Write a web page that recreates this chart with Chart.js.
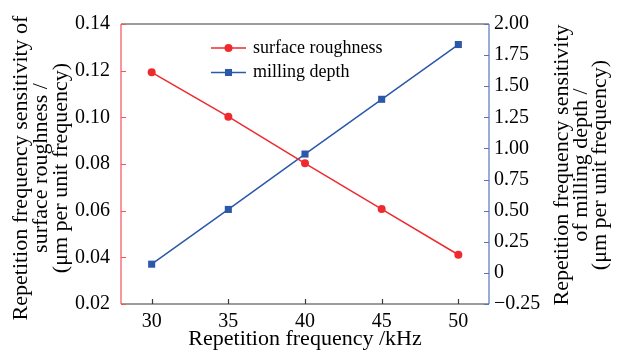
<!DOCTYPE html>
<html>
<head>
<meta charset="utf-8">
<script src="https://cdn.jsdelivr.net/npm/chart.js@4/dist/chart.umd.min.js"></script>
<style>
html,body{margin:0;padding:0;background:#fff;}
#wrap{width:619px;height:353px;position:relative;}
</style>
</head>
<body>
<div id="wrap"><canvas id="c" width="619" height="353"></canvas></div>
<script>
// ---- data ----
const frequencies = [30, 35, 40, 45, 50];
const surfaceRoughness = [0.1193, 0.1003, 0.0803, 0.0607, 0.0411];
const millingDepth = [0.07, 0.51, 0.955, 1.395, 1.835];
const xTicks = [30, 35, 40, 45, 50];
const leftTicks = [0.02, 0.04, 0.06, 0.08, 0.10, 0.12, 0.14];
const rightTicks = [-0.25, 0, 0.25, 0.5, 0.75, 1.0, 1.25, 1.5, 1.75, 2.0];
const rightTickLabels = ['\u22120.25', '0', '0.25', '0.50', '0.75', '1.00', '1.25', '1.50', '1.75', '2.00'];
const seriesNames = ['surface roughness', 'milling depth'];
const xTitle = 'Repetition frequency /kHz';
const leftTitle = ['Repetition frequency sensitivity of', 'surface roughness /', '(\u03bcm per unit frequency)'];
const rightTitle = ['Repetition frequency sensitivity', 'of milling depth /', '(\u03bcm per unit frequency)'];

const RED = '#ee2a2e';
const BLUE = '#2b58a8';
const RED_AXIS = '#f2545a';
const BLUE_AXIS = '#5674c0';
const FRAME = '#3a3a3a';
const FONT = "'Liberation Serif', 'Times New Roman', serif";

Chart.defaults.font.family = FONT;
Chart.defaults.color = '#000';

const framePlugin = {
  id: 'frame',
  beforeDatasetsDraw(chart) {
    const {ctx, chartArea: a, scales} = chart;
    ctx.save();
    ctx.lineWidth = 1.2;
    ctx.strokeStyle = FRAME;
    ctx.beginPath();
    ctx.moveTo(a.left, a.top); ctx.lineTo(a.right, a.top);
    ctx.moveTo(a.left, a.bottom); ctx.lineTo(a.right, a.bottom);
    ctx.stroke();
    ctx.beginPath();
    scales.x.ticks.forEach(t => {
      const px = Math.round(scales.x.getPixelForValue(t.value)) + 0.5;
      ctx.moveTo(px, a.bottom); ctx.lineTo(px, a.bottom - 5);
    });
    ctx.stroke();
    ctx.strokeStyle = RED_AXIS;
    ctx.beginPath();
    ctx.moveTo(a.left, a.top); ctx.lineTo(a.left, a.bottom);
    scales.y.ticks.forEach(t => {
      const py = Math.round(scales.y.getPixelForValue(t.value)) + 0.5;
      ctx.moveTo(a.left, py); ctx.lineTo(a.left + 5, py);
    });
    ctx.stroke();
    ctx.strokeStyle = BLUE_AXIS;
    ctx.beginPath();
    ctx.moveTo(a.right, a.top); ctx.lineTo(a.right, a.bottom);
    scales.y1.ticks.forEach(t => {
      const py = Math.round(scales.y1.getPixelForValue(t.value)) + 0.5;
      ctx.moveTo(a.right, py); ctx.lineTo(a.right - 5, py);
    });
    ctx.stroke();
    ctx.restore();
  },
  afterDraw(chart) {
    const {ctx, chartArea: a} = chart;
    ctx.save();
    ctx.fillStyle = '#000';
    ctx.font = "22px " + FONT;
    ctx.textAlign = 'center';
    ctx.textBaseline = 'middle';
    const lx = [21, 41, 61];
    leftTitle.forEach((s, i) => {
      ctx.save(); ctx.translate(lx[i], 168); ctx.rotate(-Math.PI / 2); ctx.fillText(s, 0, 0); ctx.restore();
    });
    const rx = [562, 581, 600];
    rightTitle.forEach((s, i) => {
      ctx.save(); ctx.translate(rx[i], 165); ctx.rotate(-Math.PI / 2); ctx.fillText(s, 0, 0); ctx.restore();
    });
    ctx.font = "18px " + FONT;
    ctx.textAlign = 'left';
    chart.data.datasets.forEach((ds, i) => {
      const y = a.top + 24 + i * 24.5;
      const x0 = a.left + 90;
      ctx.strokeStyle = ds.borderColor;
      ctx.lineWidth = 1.5;
      ctx.beginPath(); ctx.moveTo(x0, y); ctx.lineTo(x0 + 35, y); ctx.stroke();
      ctx.fillStyle = ds.pointBackgroundColor;
      Chart.helpers.drawPoint(ctx, {pointStyle: ds.pointStyle, radius: ds.pointRadius, rotation: 0, borderWidth: 0}, x0 + 17.5, y);
      ctx.fillStyle = '#000';
      ctx.fillText(ds.label, x0 + 42, y);
    });
    ctx.restore();
  }
};

new Chart(document.getElementById('c'), {
  type: 'line',
  data: {
    datasets: [
      {
        label: seriesNames[0],
        data: frequencies.map((f, i) => ({x: f, y: surfaceRoughness[i]})),
        yAxisID: 'y',
        borderColor: RED,
        backgroundColor: RED,
        pointBackgroundColor: RED,
        pointBorderColor: RED,
        pointStyle: 'circle',
        pointRadius: 4,
        pointBorderWidth: 0,
        borderWidth: 1.5,
        tension: 0
      },
      {
        label: seriesNames[1],
        data: frequencies.map((f, i) => ({x: f, y: millingDepth[i]})),
        yAxisID: 'y1',
        borderColor: BLUE,
        backgroundColor: BLUE,
        pointBackgroundColor: BLUE,
        pointBorderColor: BLUE,
        pointStyle: 'rect',
        pointRadius: 5,
        pointBorderWidth: 0,
        borderWidth: 1.5,
        tension: 0
      }
    ]
  },
  options: {
    responsive: false,
    animation: false,
    layout: {padding: {top: 24, right: 0, left: 0, bottom: 0}},
    plugins: {legend: {display: false}, tooltip: {enabled: false}},
    scales: {
      x: {
        type: 'linear', min: 28, max: 52,
        grid: {display: false, drawTicks: false},
        border: {display: false},
        afterBuildTicks: s => { s.ticks = xTicks.map(v => ({value: v})); },
        afterFit: s => { s.height = 49; },
        ticks: {font: {size: 20}, padding: 6, callback: v => String(v), maxRotation: 0},
        title: {display: true, text: xTitle, font: {size: 22}, padding: {top: 0, bottom: 1}}
      },
      y: {
        type: 'linear', position: 'left', min: 0.02, max: 0.14,
        grid: {display: false, drawTicks: false},
        border: {display: false},
        afterBuildTicks: s => { s.ticks = leftTicks.map(v => ({value: v})); },
        afterFit: s => { s.width = 121; },
        ticks: {font: {size: 20}, padding: 11, callback: v => Number(v).toFixed(2)}
      },
      y1: {
        type: 'linear', position: 'right', min: -0.25, max: 2.0,
        grid: {display: false, drawTicks: false},
        border: {display: false},
        afterBuildTicks: s => { s.ticks = rightTicks.map(v => ({value: v})); },
        afterFit: s => { s.width = 130; },
        ticks: {font: {size: 20}, padding: 5, callback: (v, i) => rightTickLabels[i]}
      }
    }
  },
  plugins: [framePlugin]
});
</script>
</body>
</html>
